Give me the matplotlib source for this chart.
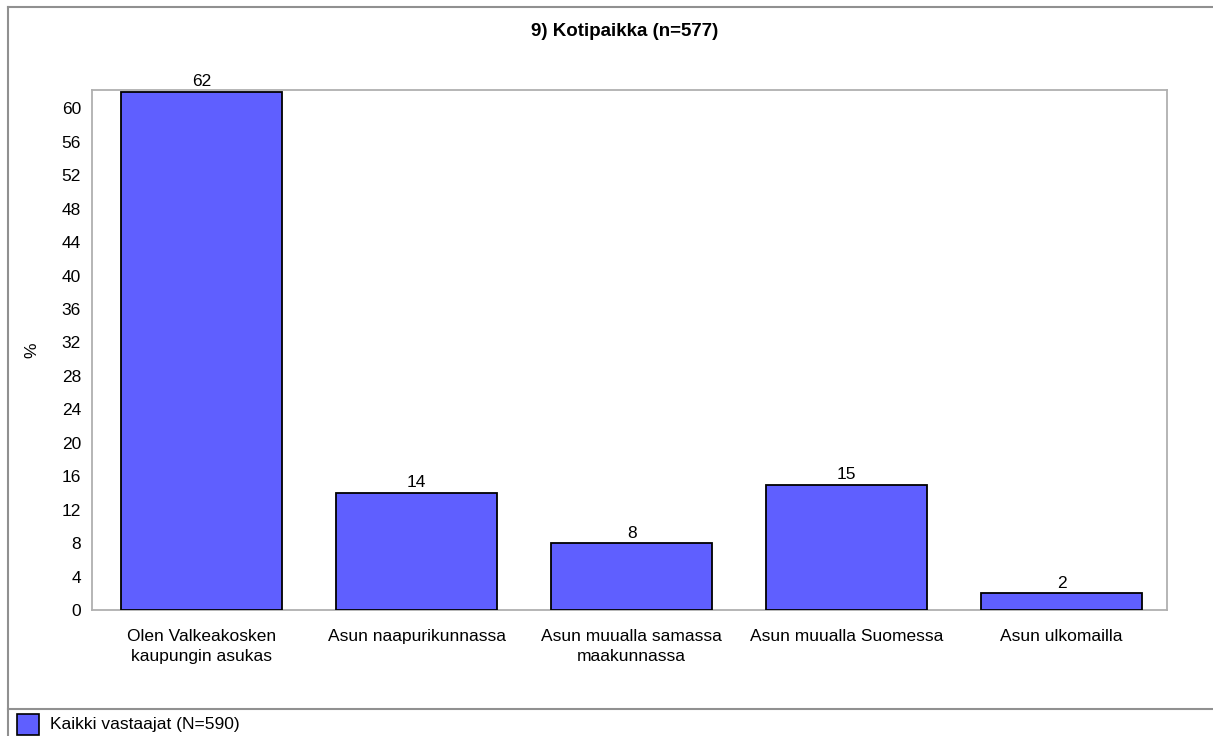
import matplotlib
import matplotlib.pyplot as plt
from matplotlib.patches import Rectangle
from matplotlib.lines import Line2D

matplotlib.rcParams['font.family'] = ['Liberation Sans', 'DejaVu Sans']

# data
categories = ['Olen Valkeakosken\nkaupungin asukas', 'Asun naapurikunnassa',
              'Asun muualla samassa\nmaakunnassa', 'Asun muualla Suomessa',
              'Asun ulkomailla']
values = [62, 14, 8, 15, 2]
yticks = list(range(0, 61, 4))
title = '9) Kotipaikka (n=577)'
legend_label = 'Kaikki vastaajat (N=590)'

W, H = 1213, 736
fig = plt.figure(figsize=(W / 100, H / 100), dpi=100)

# plot area in pixel coords
left, top, right, bottom = 92, 90, 1167, 610
ax = fig.add_axes([left / W, 1 - bottom / H, (right - left) / W, (bottom - top) / H])

fs = 12.5
bar_color = '#5f5fff'
x = range(len(categories))
ax.bar(x, values, width=0.75, color=bar_color, edgecolor='black', linewidth=1.3, zorder=3)
for xi, v in zip(x, values):
    ax.text(xi, v + 0.3, str(v), ha='center', va='bottom', fontsize=fs)

ax.set_xlim(-0.51, len(categories) - 0.51)
ax.set_ylim(0, 62.2)
ax.set_yticks(yticks)
ax.set_xticks(list(x))
ax.set_xticklabels(categories, fontsize=fs, linespacing=1.4)
ax.tick_params(axis='both', length=0, labelsize=fs)
ax.tick_params(axis='x', pad=14)
ax.tick_params(axis='y', pad=8)
for s in ax.spines.values():
    s.set_color('#b0b0b0')
    s.set_linewidth(1.3)
ax.set_ylabel('%', fontsize=fs, labelpad=16)

fig.text(625 / W, 1 - 32 / H, title, ha='center', va='center', fontsize=13.5, fontweight='bold')

# outer frame lines and legend separator
fig.add_artist(Line2D([8 / W, 8 / W], [0, 1 - 7 / H], color='#909090', lw=1.5, transform=fig.transFigure))
fig.add_artist(Line2D([8 / W, 1], [1 - 7 / H, 1 - 7 / H], color='#909090', lw=1.5, transform=fig.transFigure))
fig.add_artist(Line2D([8 / W, 1], [1 - 709 / H, 1 - 709 / H], color='#909090', lw=1.5, transform=fig.transFigure))

# legend entry
fig.add_artist(Rectangle((17 / W, 1 - 735 / H), 22 / W, 21 / H, facecolor=bar_color,
                         edgecolor='black', lw=1.2, transform=fig.transFigure))
fig.text(50 / W, 1 - 725 / H, legend_label, ha='left', va='center', fontsize=fs)

fig.savefig('out.png', dpi=100)
